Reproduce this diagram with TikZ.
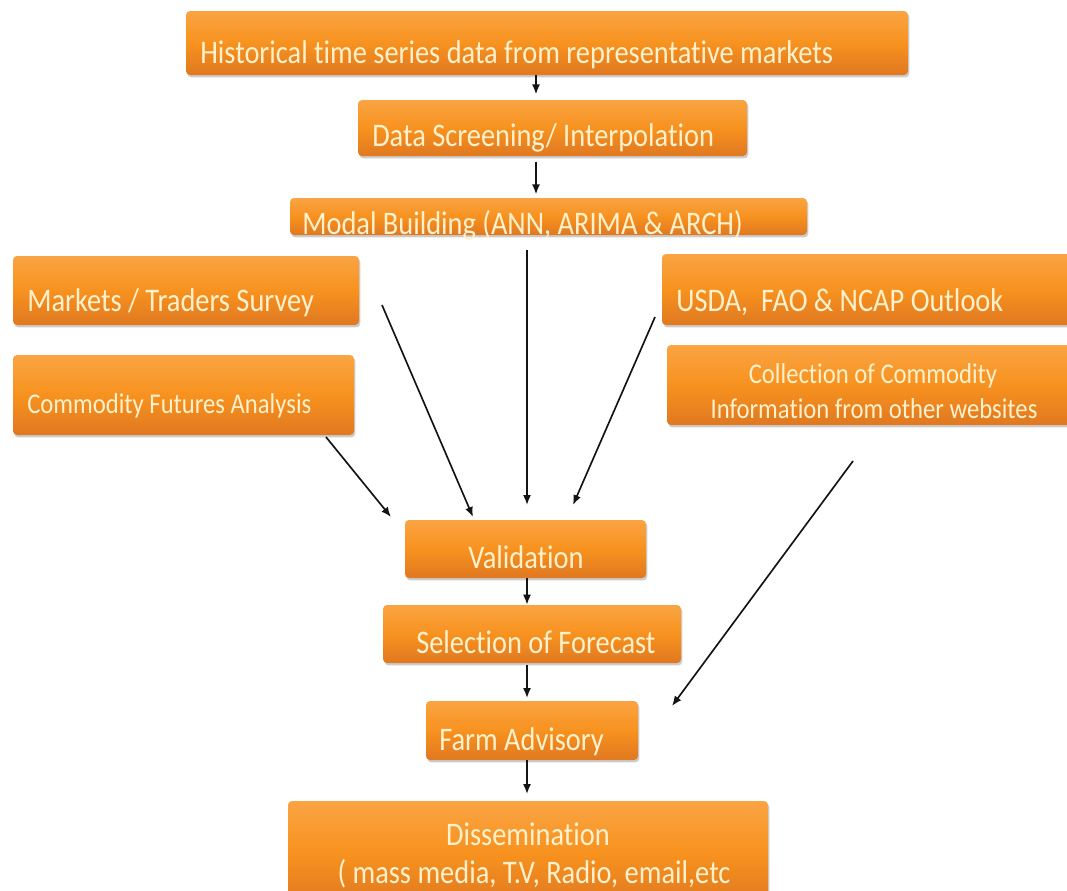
\documentclass[tikz,border=0pt]{standalone}
\usepackage{graphicx}
\usepackage{fontspec}
\setmainfont[Ligatures={NoCommon}]{Carlito}
\usetikzlibrary{shadows,fit,arrows.meta}
\definecolor{boxtop}{HTML}{FAA443}
\definecolor{boxmid}{HTML}{F7921F}
\definecolor{boxbot}{HTML}{E07820}
\definecolor{txtcol}{HTML}{FFF1CC}
\newcommand{\vs}[1]{\scalebox{1}[1.16]{#1}}
\begin{document}
\begin{tikzpicture}[x=0.75pt,y=-0.75pt,
  box/.style={rounded corners=3pt, inner sep=0pt, draw=none,
    top color=boxtop, bottom color=boxbot, middle color=boxmid,
    drop shadow={shadow xshift=1pt, shadow yshift=-1.8pt, opacity=0.4}},
  txt/.style={text=txtcol, inner sep=0pt, anchor=base west, font=\fontsize{21.3}{25}\selectfont},
  stxt/.style={txt, font=\fontsize{18.5}{22}\selectfont},
  ctxt/.style={txt, anchor=base},
  cstxt/.style={stxt, anchor=base},
  arr/.style={-{Latex[length=7.5pt,width=6pt]}, line width=1.25pt, draw=black!92}]
\clip (0,0) rectangle (1067,890);
\useasboundingbox (0,0) rectangle (1067,890);

% boxes
\node[box, fit={(186,11) (908,75)}] (hist) {};
\node[box, fit={(358,100) (747,156)}] (screen) {};
\node[box, fit={(290,198) (807,235)}] (modal) {};
\node[box, fit={(13,256) (359,325)}] (markets) {};
\node[box, fit={(13,355) (354,435)}] (futures) {};
\node[box, fit={(662,254) (1085,325)}] (usda) {};
\node[box, fit={(667,345) (1085,425)}] (collect) {};
\node[box, fit={(405,520) (646,578)}] (valid) {};
\node[box, fit={(383,605) (681,663)}] (select) {};
\node[box, fit={(426,701) (638,760)}] (farm) {};
\node[box, fit={(288,801) (768,905)}] (dissem) {};

% texts
\node[txt] (thist) at (200,63) {\vs{Historical time series data from representative markets}};
\node[txt] (tscreen) at (372,146) {\vs{Data Screening/ Interpolation}};
\node[txt] (tmodal) at (302,234) {\vs{Modal Building (ANN, ARIMA \& ARCH)}};
\node[txt] (tmarkets) at (27,311) {\vs{Markets / Traders Survey}};
\node[stxt] (tfutures) at (27,413) {\vs{Commodity Futures Analysis}};
\node[txt] (tusda) at (676,311) {\vs{USDA,\ \ FAO \& NCAP Outlook}};
\node[cstxt] (tcollect1) at (873,383) {\vs{Collection of Commodity}};
\node[cstxt] (tcollect2) at (874,418) {\vs{Information from other websites}};
\node[txt] (tvalid) at (468,568) {\vs{Validation}};
\node[txt] (tselect) at (416,653) {\vs{Selection of Forecast}};
\node[txt] (tfarm) at (439,750) {\vs{Farm Advisory}};
\node[ctxt] (tdis1) at (528,845) {\vs{Dissemination}};
\node[ctxt] (tdis2) at (534,883) {\vs{( mass media, T.V, Radio, email,etc}};

% column and free-end coordinates
\coordinate (c1) at (536,0);
\coordinate (c2) at (527,0);
\coordinate (mkS) at (382,305);
\coordinate (mkE) at (473,517);
\coordinate (mdE) at (527,505);
\coordinate (usS) at (655,317);
\coordinate (usE) at (573,505);
\coordinate (fuS) at (326,437);
\coordinate (fuE) at (391,517);
\coordinate (coS) at (853,461);
\coordinate (coE) at (672,706);

% connectors
\draw[arr] (hist.south -| c1) -- ([yshift=4pt]screen.north -| c1);
\draw[arr] ([yshift=-4pt]screen.south -| c1) -- ([yshift=2.5pt]modal.north -| c1);
\draw[arr] ([yshift=-11pt]modal.south -| c2) -- (mdE);
\draw[arr] (mkS) -- (mkE);
\draw[arr] (usS) -- (usE);
\draw[arr] (fuS) -- (fuE);
\draw[arr] (coS) -- (coE);
\draw[arr] (valid.south -| c2) -- (select.north -| c2);
\draw[arr] ([yshift=-1pt]select.south -| c2) -- ([yshift=2pt]farm.north -| c2);
\draw[arr] (farm.south -| c2) -- ([yshift=5pt]dissem.north -| c2);
\end{tikzpicture}
\end{document}
